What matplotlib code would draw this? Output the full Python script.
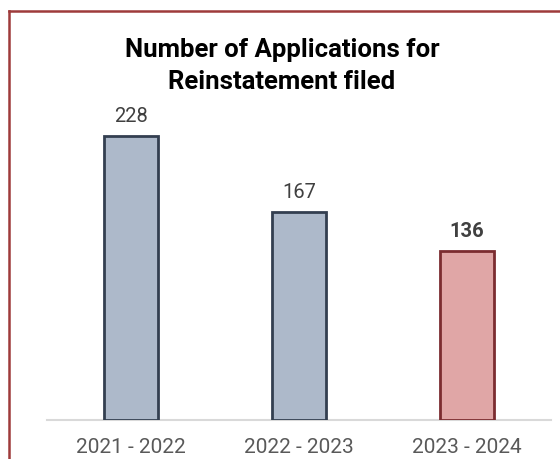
import matplotlib
matplotlib.use("Agg")
import matplotlib.pyplot as plt
from matplotlib.lines import Line2D

# Data
periods = ["2021 - 2022", "2022 - 2023", "2023 - 2024"]
applications = [228, 167, 136]
fill_colors = ["#ADB9CA", "#ADB9CA", "#E0A6A6"]
edge_colors = ["#333F50", "#333F50", "#7B2C30"]
label_weights = ["normal", "normal", "bold"]

plt.rcParams["font.family"] = ["Roboto", "DejaVu Sans"]

W, H = 560, 459
fig = plt.figure(figsize=(W / 100, H / 100), dpi=100)
fig.patch.set_facecolor("white")

ax = fig.add_axes([47 / W, (H - 420) / H, 504 / W, 373.7 / H])
x = list(range(len(periods)))
ax.bar(x, applications, width=0.32, color=fill_colors, edgecolor=edge_colors,
       linewidth=2.0, zorder=3)

for xi, v, w in zip(x, applications, label_weights):
    ax.annotate(str(v), (xi, v), xytext=(0, 7), textcoords="offset points",
                ha="center", va="bottom", fontsize=14.5, color="#404040",
                fontweight=w)

ax.set_xlim(-0.5, 2.5)
ax.set_ylim(0, 300)
ax.set_xticks(x)
ax.set_xticklabels(periods, fontsize=15, color="#595959")
ax.tick_params(axis="x", length=0, pad=13)
ax.set_yticks([])
for side in ["top", "right", "left"]:
    ax.spines[side].set_visible(False)
ax.spines["bottom"].set_color("#D9D9D9")
ax.spines["bottom"].set_linewidth(1.5)
ax.set_facecolor("none")

fig.text(282 / W, 1 - 66 / H, "Number of Applications for\nReinstatement filed",
         ha="center", va="center", fontsize=18.5, fontweight="bold",
         color="black", linespacing=1.45)

# Frame lines along the top and left edges
border = "#9E3B3B"
fig.add_artist(Line2D([9 / W, 1], [1 - 11 / H, 1 - 11 / H], color=border,
                      linewidth=1.8, transform=fig.transFigure))
fig.add_artist(Line2D([9 / W, 9 / W], [0, 1 - 11 / H], color=border,
                      linewidth=1.8, transform=fig.transFigure))

fig.savefig("out.png", dpi=100, facecolor="white")
